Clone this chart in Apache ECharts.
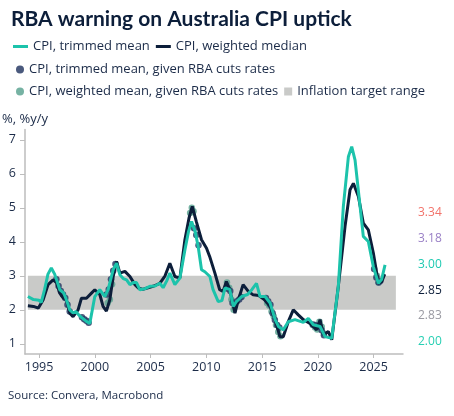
<!DOCTYPE html>
<html>
<head>
<meta charset="utf-8">
<script src="https://cdn.jsdelivr.net/npm/echarts@6/dist/echarts.min.js"></script>
<style>html,body{margin:0;padding:0;background:#fff;}#c{width:454px;height:416px;}</style>
</head>
<body>
<div id="c"></div>
<script>
const trimmedMean = [
[1994.0,2.39],[1994.5,2.30],[1995.0,2.28],[1995.2,2.22],[1995.5,2.6],[1995.8,3.05],[1996.1,3.23],[1996.4,3.05],
[1996.86,2.59],[1997.2,2.5],[1997.46,2.29],[1997.75,2.0],[1998.05,1.91],[1998.3,1.95],[1998.65,1.82],[1998.9,1.75],
[1999.25,1.66],[1999.55,1.6],[2000.0,2.39],[2000.45,2.59],[2000.9,2.39],[2001.2,2.6],[2001.65,3.18],[2001.95,3.37],
[2002.25,3.03],[2002.55,2.92],[2002.85,2.88],[2003.15,2.74],[2003.45,2.8],[2003.74,2.8],[2004.04,2.59],[2004.5,2.62],
[2004.94,2.69],[2005.4,2.7],[2005.83,2.78],[2006.13,2.65],[2006.45,2.85],[2006.73,3.08],[2007.18,2.74],[2007.63,2.93],
[2008.08,3.76],[2008.4,4.3],[2008.68,4.6],[2009.0,4.3],[2009.27,3.86],[2009.57,3.18],[2009.87,3.12],[2010.32,2.98],
[2010.6,2.6],[2011.07,2.24],[2011.4,2.27],[2011.67,2.64],[2012.1,2.6],[2012.42,2.1],[2012.72,2.25],[2013.17,2.39],
[2013.7,2.45],[2014.1,2.6],[2014.5,2.78],[2014.82,2.39],[2015.27,2.39],[2015.72,2.2],[2016.17,1.71],[2016.47,1.51],
[2016.9,1.41],[2017.35,1.65],[2017.95,1.71],[2018.7,1.63],[2019.15,1.75],[2019.6,1.56],[2020.2,1.51],[2020.65,1.21],
[2021.25,1.16],[2021.84,2.69],[2022.29,5.04],[2022.74,6.5],[2023.04,6.8],[2023.34,6.4],[2023.79,5.04],[2024.08,4.16],
[2024.53,4.01],[2024.98,3.27],[2025.43,2.78],[2025.73,2.9],[2026.03,3.32]
];
const weightedMedian = [
[1994.0,2.12],[1994.5,2.1],[1994.94,2.05],[1995.36,2.29],[1995.81,2.74],[1996.26,2.88],[1996.56,2.8],[1996.86,2.49],
[1997.16,2.35],[1997.45,2.3],[1997.76,1.9],[1998.05,1.8],[1998.5,2.0],[1998.8,2.34],[1999.25,2.34],[1999.7,2.49],
[2000.0,2.59],[2000.45,2.45],[2000.74,2.1],[2001.04,1.96],[2001.35,2.3],[2001.65,2.98],[2001.95,3.42],[2002.25,3.08],
[2002.7,3.13],[2003.15,2.98],[2003.6,2.74],[2003.9,2.64],[2004.3,2.6],[2004.7,2.64],[2005.3,2.7],[2005.83,2.78],
[2006.3,3.0],[2006.73,3.37],[2007.18,2.98],[2007.63,2.93],[2008.08,4.06],[2008.45,4.7],[2008.74,5.04],[2009.1,4.6],
[2009.57,4.06],[2010.02,3.81],[2010.3,3.57],[2010.77,3.08],[2011.2,2.59],[2011.5,2.54],[2011.8,2.83],[2012.1,2.6],
[2012.57,1.9],[2012.87,2.29],[2013.3,2.74],[2013.75,2.55],[2014.2,2.44],[2014.7,2.42],[2015.2,2.3],[2015.72,2.1],
[2016.17,1.71],[2016.6,1.21],[2016.9,1.21],[2017.35,1.65],[2017.8,2.0],[2018.25,1.85],[2018.7,1.71],[2019.3,1.6],
[2019.9,1.41],[2020.2,1.71],[2020.5,1.27],[2020.95,1.36],[2021.25,1.12],[2021.84,2.69],[2022.44,4.45],[2022.89,5.53],
[2023.19,5.72],[2023.64,5.33],[2024.08,4.55],[2024.53,4.35],[2024.98,3.67],[2025.28,3.08],[2025.43,2.78],[2025.73,2.83],
[2026.0,3.05]
];
const trimmedCutDots = [
[1996.55,2.9],[1996.75,2.7],[1996.95,2.55],[1997.15,2.45],[1997.35,2.35],[1997.55,2.15],[1997.75,1.95],
[1998.85,1.78],[1999.05,1.72],[1999.25,1.68],[1999.45,1.62],
[2001.05,2.45],[2001.25,2.6],[2001.45,2.9],[2001.65,3.15],[2001.85,3.35],
[2008.9,4.4],[2009.1,4.2],[2009.3,3.9],
[2011.9,2.62],[2012.15,2.55],[2012.35,2.2],[2012.55,2.15],[2012.75,2.25],[2012.95,2.3],[2013.15,2.38],
[2015.35,2.35],[2015.55,2.25],[2015.75,2.15],[2015.95,1.9],[2016.15,1.7],[2016.35,1.55],[2016.55,1.48],
[2019.55,1.57],[2019.75,1.55],[2019.95,1.52],[2020.15,1.5],[2020.35,1.4],[2020.55,1.25],
[2025.05,3.2],[2025.25,2.95],[2025.45,2.8],[2025.6,2.85]
];
const weightedCutDots = [
[2001.15,2.2],[2001.35,2.3],[2001.55,2.75],
[2008.55,4.85],[2008.7,5.0],[2008.85,4.9],
[2011.85,2.8],[2012.05,2.65],[2012.25,2.3],[2012.45,2.0],
[2015.45,2.2],[2015.65,2.12],[2015.85,1.95],[2016.05,1.8],[2016.25,1.55],[2016.45,1.35],[2016.65,1.22],
[2019.55,1.55],[2019.75,1.48],[2019.95,1.42],[2020.15,1.65],[2020.35,1.5],[2020.55,1.3],
[2025.3,3.0],[2025.45,2.8]
];
const targetRange = [2, 3];
const targetYears = [1994, 2027];
const xTicks = [1995, 2000, 2005, 2010, 2015, 2020, 2025];
const yTicks = [1, 2, 3, 4, 5, 6, 7];
const sideLabels = ['3.34', '3.18', '3.00', '2.85', '2.83', '2.00'];
const sideColors = ['#f2736b', '#9a80c6', '#1fcab2', '#0c1e3a', '#9a9aa2', '#27cfb3'];

const FONT = 'Open Sans';
const TXT = '#1b2b48';
const chart = echarts.init(document.getElementById('c'));
const graphics = sideLabels.map((t, i) => ({
  type: 'text', x: 418, y: 213 + i * 25.7,
  style: { text: t, fill: sideColors[i], font: '12px "' + FONT + '"', verticalAlign: 'middle' }
}));
graphics.push({ type: 'text', x: 2, y: 119, style: { text: '%, %y/y', fill: TXT, font: '13px "' + FONT + '"', verticalAlign: 'middle' } });
graphics.push({ type: 'text', x: 8, y: 396, style: { text: 'Source: Convera, Macrobond', fill: TXT, font: '11.5px "' + FONT + '"', verticalAlign: 'middle' } });

const legendText = { color: TXT, fontFamily: FONT, fontSize: 13 };
chart.setOption({
  animation: false,
  title: { text: 'RBA warning on Australia CPI uptick', left: 6, top: 4,
    textStyle: { fontFamily: 'Lato', fontWeight: 'bold', fontSize: 21, color: '#0c1e3a' } },
  legend: [
    { left: 8, top: 35, itemWidth: 15, itemHeight: 3, itemGap: 6, textStyle: legendText,
      data: [{ name: 'CPI, trimmed mean', icon: 'rect' }, { name: 'CPI, weighted median', icon: 'rect' }] },
    { left: 11, top: 58, itemWidth: 8, itemHeight: 8, textStyle: legendText,
      data: [{ name: 'CPI, trimmed mean, given RBA cuts rates', icon: 'circle' }] },
    { left: 11, top: 80, itemWidth: 8, itemHeight: 8, itemGap: 6, textStyle: legendText,
      data: [{ name: 'CPI, weighted mean, given RBA cuts rates', icon: 'circle' }, { name: 'Inflation target range', icon: 'rect' }] }
  ],
  grid: { left: 25, right: 51, top: 129.6, bottom: 62, containLabel: false },
  xAxis: {
    type: 'value', min: 1993.74, max: 2027.64,
    axisLine: { show: true, lineStyle: { color: '#bdbdbd', width: 1.5 } },
    axisTick: { show: true, customValues: xTicks, length: 4, lineStyle: { color: '#bdbdbd' } },
    axisLabel: { customValues: xTicks, formatter: v => String(v), color: TXT, fontFamily: FONT, fontSize: 12.5, margin: 7 },
    splitLine: { show: false }
  },
  yAxis: {
    type: 'value', min: 0.7, max: 7.3,
    axisLine: { show: true, lineStyle: { color: '#bdbdbd', width: 1.5 } },
    axisTick: { show: true, customValues: yTicks, length: 5, lineStyle: { color: '#bdbdbd' } },
    axisLabel: { customValues: yTicks, color: TXT, fontFamily: FONT, fontSize: 12.5, margin: 9 },
    splitLine: { show: false }
  },
  graphic: graphics,
  series: [
    { name: 'Inflation target range', type: 'line', data: [], color: '#c9cac8', z: 1,
      markArea: { silent: true, itemStyle: { color: '#c9cac8' },
        data: [[{ coord: [targetYears[0], targetRange[0]] }, { coord: [targetYears[1], targetRange[1]] }]] } },
    { name: 'CPI, weighted mean, given RBA cuts rates', type: 'scatter', data: weightedCutDots, z: 2,
      symbolSize: 6.5, itemStyle: { color: '#5ea593', opacity: 0.85 }, color: '#5ea593' },
    { name: 'CPI, trimmed mean, given RBA cuts rates', type: 'scatter', data: trimmedCutDots, z: 2,
      symbolSize: 6.5, itemStyle: { color: '#2a3c66', opacity: 0.85 }, color: '#1e3560' },
    { name: 'CPI, weighted median', type: 'line', data: weightedMedian, z: 3, color: '#0c1e3a',
      showSymbol: false, lineStyle: { width: 3, color: '#0c1e3a' } },
    { name: 'CPI, trimmed mean', type: 'line', data: trimmedMean, z: 4, color: '#1cc3ab',
      showSymbol: false, lineStyle: { width: 3, color: '#1cc3ab' } }
  ]
});
</script>
</body>
</html>
